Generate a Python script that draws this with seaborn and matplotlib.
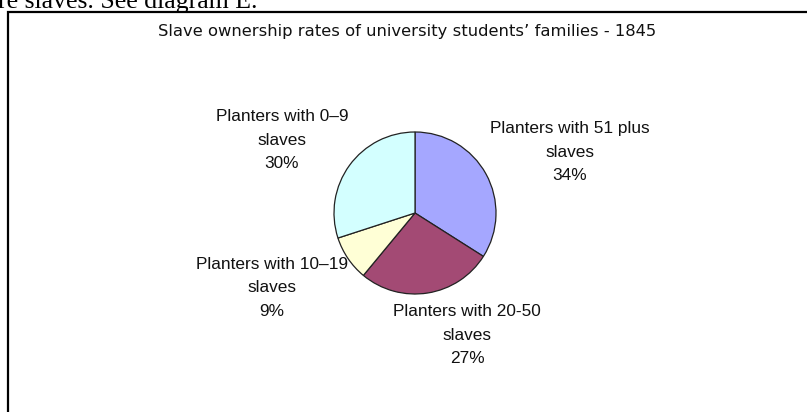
import matplotlib
matplotlib.use("Agg")
import matplotlib.pyplot as plt
from matplotlib.patches import Rectangle
import seaborn as sns

# ---- data ----
categories = ["Planters with 51 plus\nslaves", "Planters with 20-50\nslaves",
              "Planters with 10\u201319\nslaves", "Planters with 0\u20139\nslaves"]
shares = [34, 27, 9, 30]
colors = ["#A5A7FF", "#A34A74", "#FFFFD6", "#D3FFFF"]
title = "Slave ownership rates of university students\u2019 families - 1845"
header_text = "re slaves. See diagram E."

# ---- layout (pixels, y measured from the top) ----
W, H = 807, 412
pie_center = (415, 213)
pie_radius = 81
label_pos = [(570, 152), (467, 335), (272, 288), (282, 140)]

sns.set_theme(style="white")
plt.rcParams["font.family"] = ["Liberation Sans", "DejaVu Sans"]

fig = plt.figure(figsize=(W / 100, H / 100), dpi=100)
ax = fig.add_axes([0, 0, 1, 1])

ax.pie(shares, colors=colors, startangle=90, counterclock=False,
       center=(pie_center[0], H - pie_center[1]), radius=pie_radius,
       wedgeprops=dict(edgecolor="#222222", linewidth=0.9))
ax.set_xlim(0, W)
ax.set_ylim(0, H)
ax.set_aspect("auto")
ax.axis("off")

for cat, v, (x, y) in zip(categories, shares, label_pos):
    ax.text(x, H - y, f"{cat}\n{v}%", ha="center", va="center",
            multialignment="center", fontsize=12.4, color="#111111",
            linespacing=1.72, family=["Liberation Sans", "DejaVu Sans"])

# chart frame
ax.add_patch(Rectangle((8, -60), 900, H - 12 + 60, fill=False,
                       edgecolor="black", linewidth=1.6, clip_on=False))

ax.text(407, H - 31, title, ha="center", va="center", fontsize=11.8,
        color="#111111", family=["DejaVu Sans"])

ax.text(-2, H - 8, header_text, ha="left", va="baseline", fontsize=18.5,
        color="black", family=["Liberation Serif", "DejaVu Serif"])

fig.savefig("out.png", dpi=100, facecolor="white")
